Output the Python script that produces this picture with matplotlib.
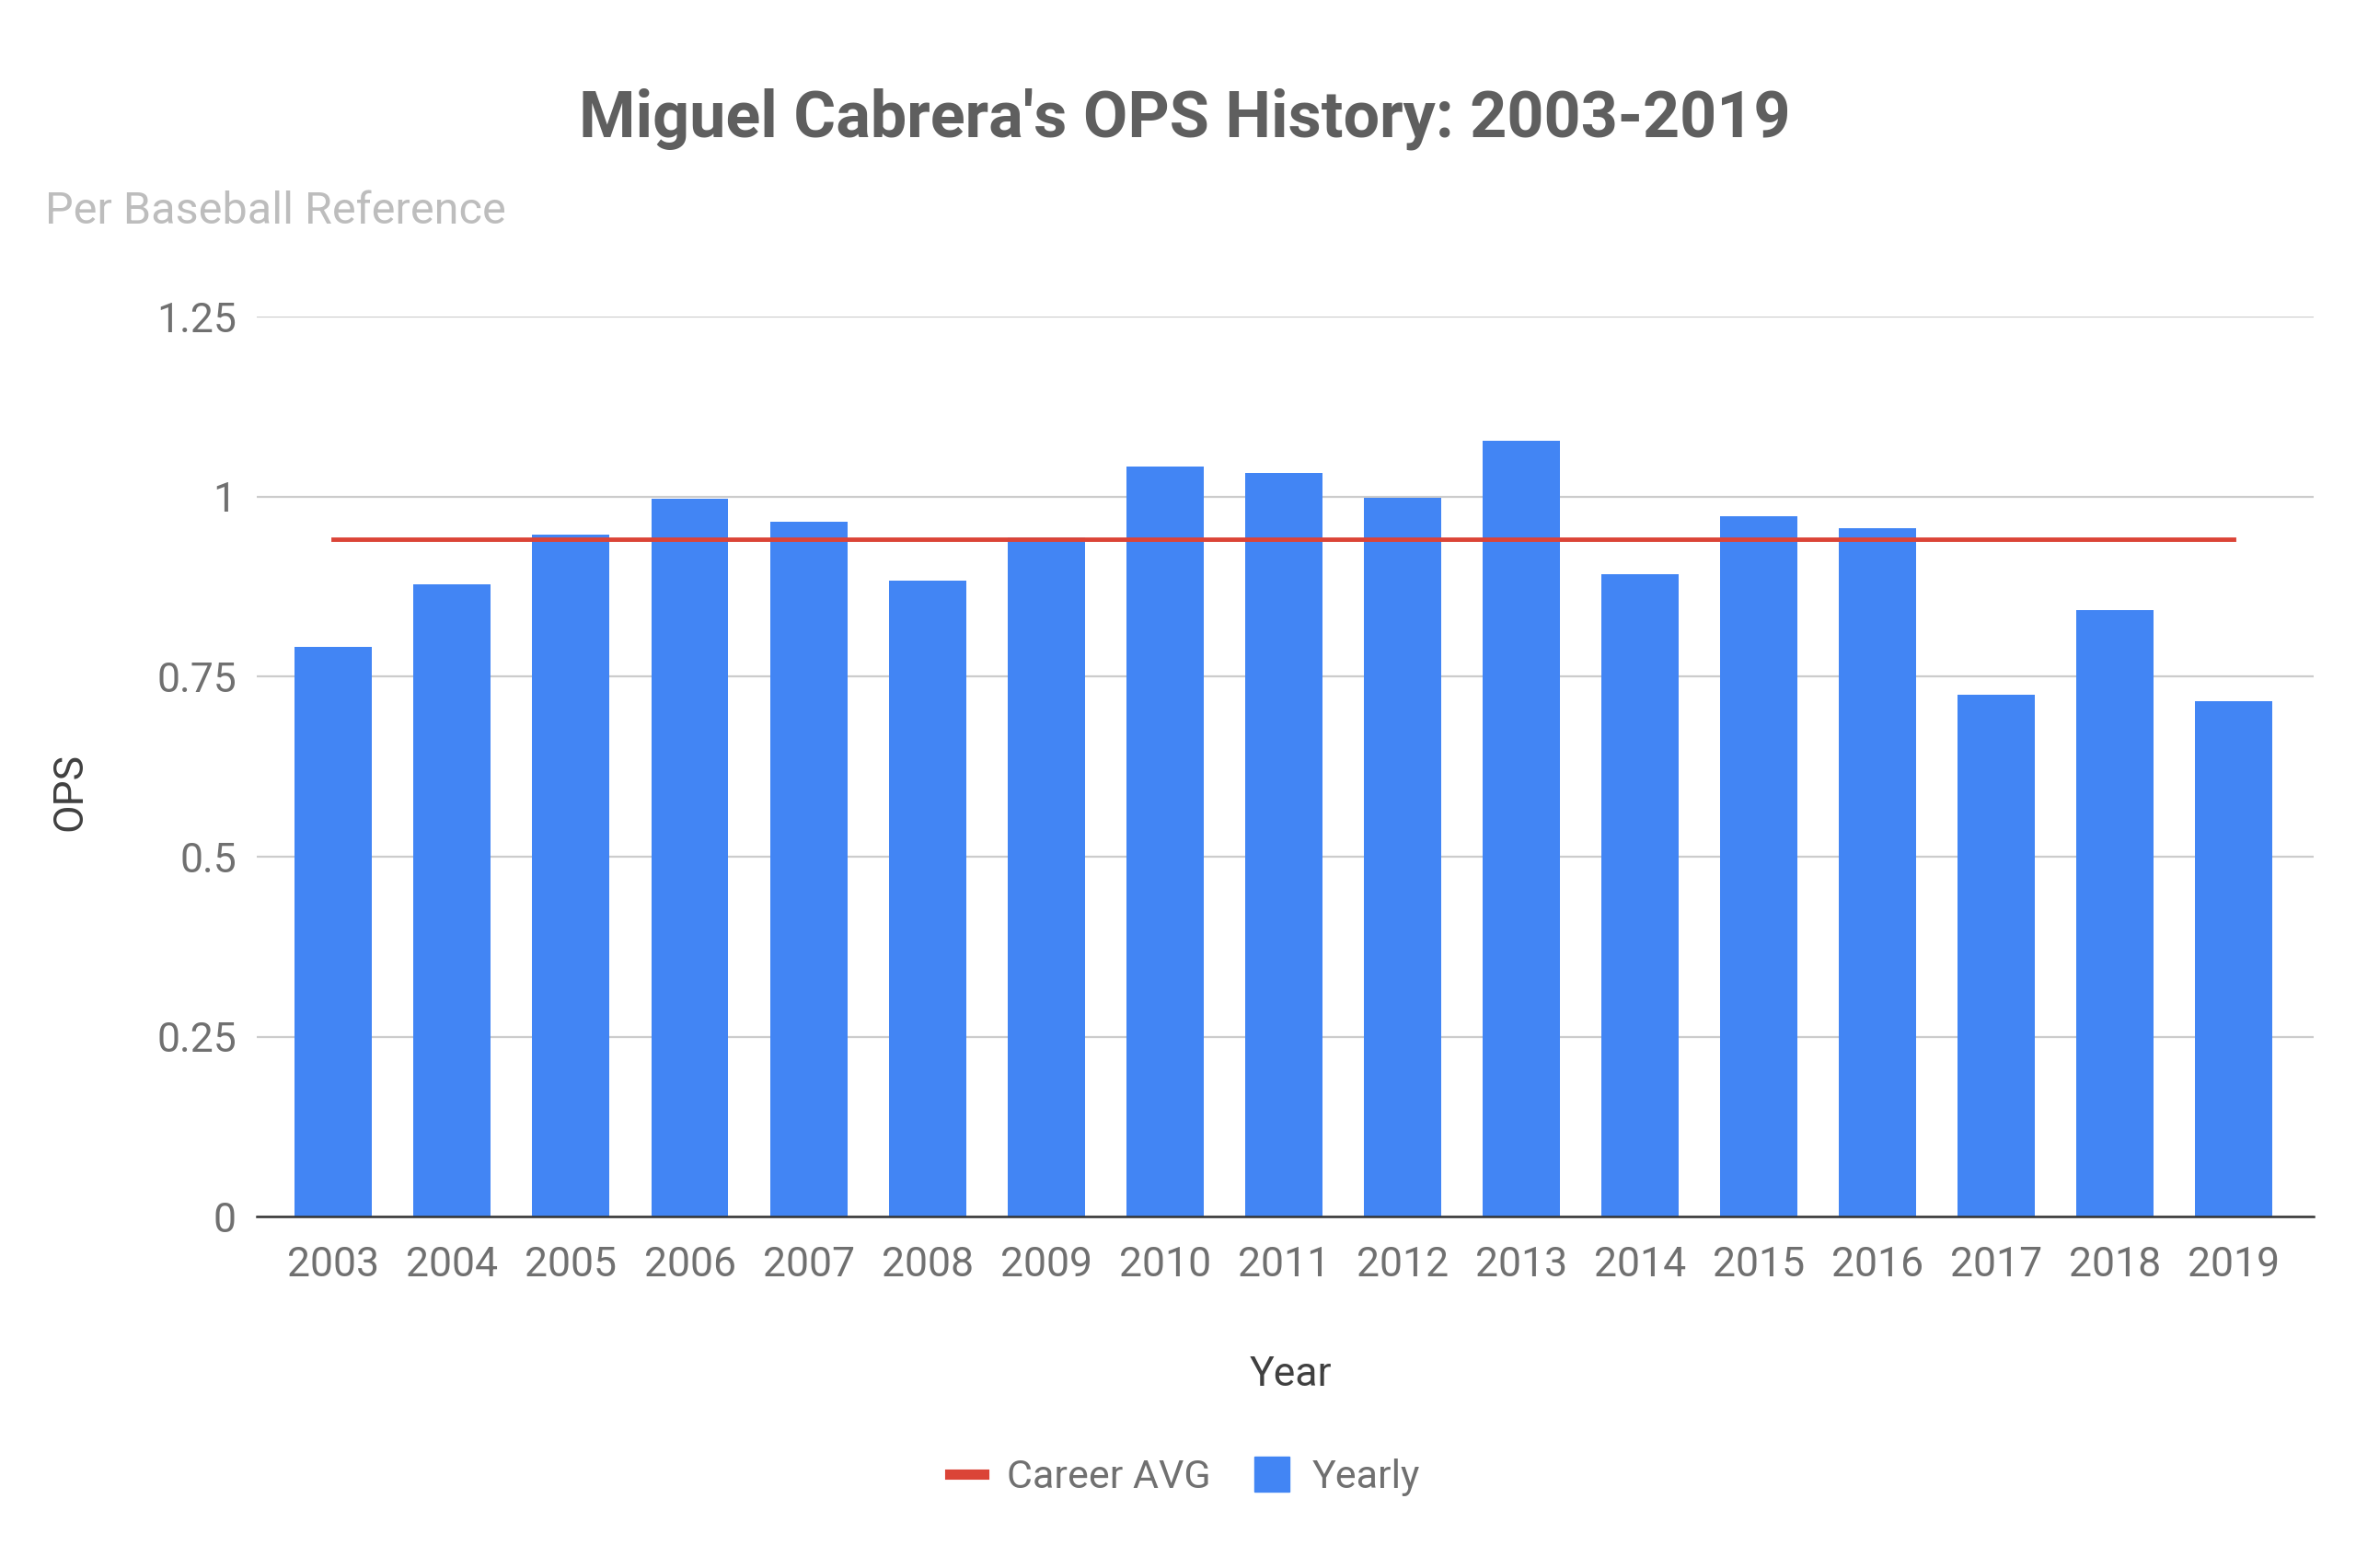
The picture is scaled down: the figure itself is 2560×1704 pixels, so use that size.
import matplotlib
matplotlib.use("Agg")
import matplotlib.pyplot as plt
from matplotlib.lines import Line2D
import numpy as np

plt.rcParams['font.family'] = ['Roboto', 'DejaVu Sans']

# data
years = ['2003', '2004', '2005', '2006', '2007', '2008', '2009', '2010', '2011',
         '2012', '2013', '2014', '2015', '2016', '2017', '2018', '2019']
ops = [0.792, 0.879, 0.947, 0.997, 0.965, 0.883, 0.943, 1.042, 1.033,
       0.998, 1.078, 0.893, 0.973, 0.956, 0.725, 0.843, 0.716]
career_avg = 0.941

BLUE = '#4285f4'
RED = '#db4437'
TXT = '#707070'

fig = plt.figure(figsize=(25.6, 17.04), dpi=100)
ax = fig.add_axes([0.109, 0.224, 0.873, 0.574])

x = np.arange(len(years))
ax.bar(x, ops, width=0.65, color=BLUE, zorder=3)
ax.plot([x[0], x[-1]], [career_avg, career_avg], color=RED, lw=3.5, zorder=4)

ax.set_ylim(0, 1.25)
ax.set_xlim(-0.645, 16.67)
ax.set_yticks([0, 0.25, 0.5, 0.75, 1, 1.25])
ax.set_yticklabels(['0', '0.25', '0.5', '0.75', '1', '1.25'])
ax.set_xticks(x)
ax.set_xticklabels(years)
ax.tick_params(axis='both', length=0, labelsize=32, colors=TXT)
ax.tick_params(axis='x', pad=23)
ax.tick_params(axis='y', pad=16)

ax.grid(axis='y', color='#cccccc', lw=1.6, zorder=0)
for s in ['top', 'right', 'left']:
    ax.spines[s].set_visible(False)
ax.spines['bottom'].set_color('#333333')
ax.spines['bottom'].set_linewidth(1.8)
ax.spines['bottom'].set_zorder(5)

fig.text(0.503, 0.924, "Miguel Cabrera's OPS History: 2003-2019", ha='center', va='center',
         fontsize=50.5, fontweight='bold', color='#5f5f5f')
fig.text(0.019, 0.865, 'Per Baseball Reference', ha='left', va='center',
         fontsize=35, color='#bdbdbd')
fig.text(0.030, 0.495, 'OPS', rotation=90, ha='center', va='center', fontsize=32, color='#404040')
fig.text(0.548, 0.123, 'Year', ha='center', va='center', fontsize=32, color='#404040')

handles = [Line2D([], [], color=RED, lw=8),
           Line2D([], [], marker='s', color=BLUE, linestyle='none', markersize=28)]
fig.legend(handles, ['Career AVG', 'Yearly'], loc='center', bbox_to_anchor=(0.503, 0.058),
           ncol=2, frameon=False, fontsize=31, labelcolor=TXT, handlelength=0.85,
           columnspacing=1.1, handletextpad=0.6)

fig.savefig('out.png', dpi=100, facecolor='white')
